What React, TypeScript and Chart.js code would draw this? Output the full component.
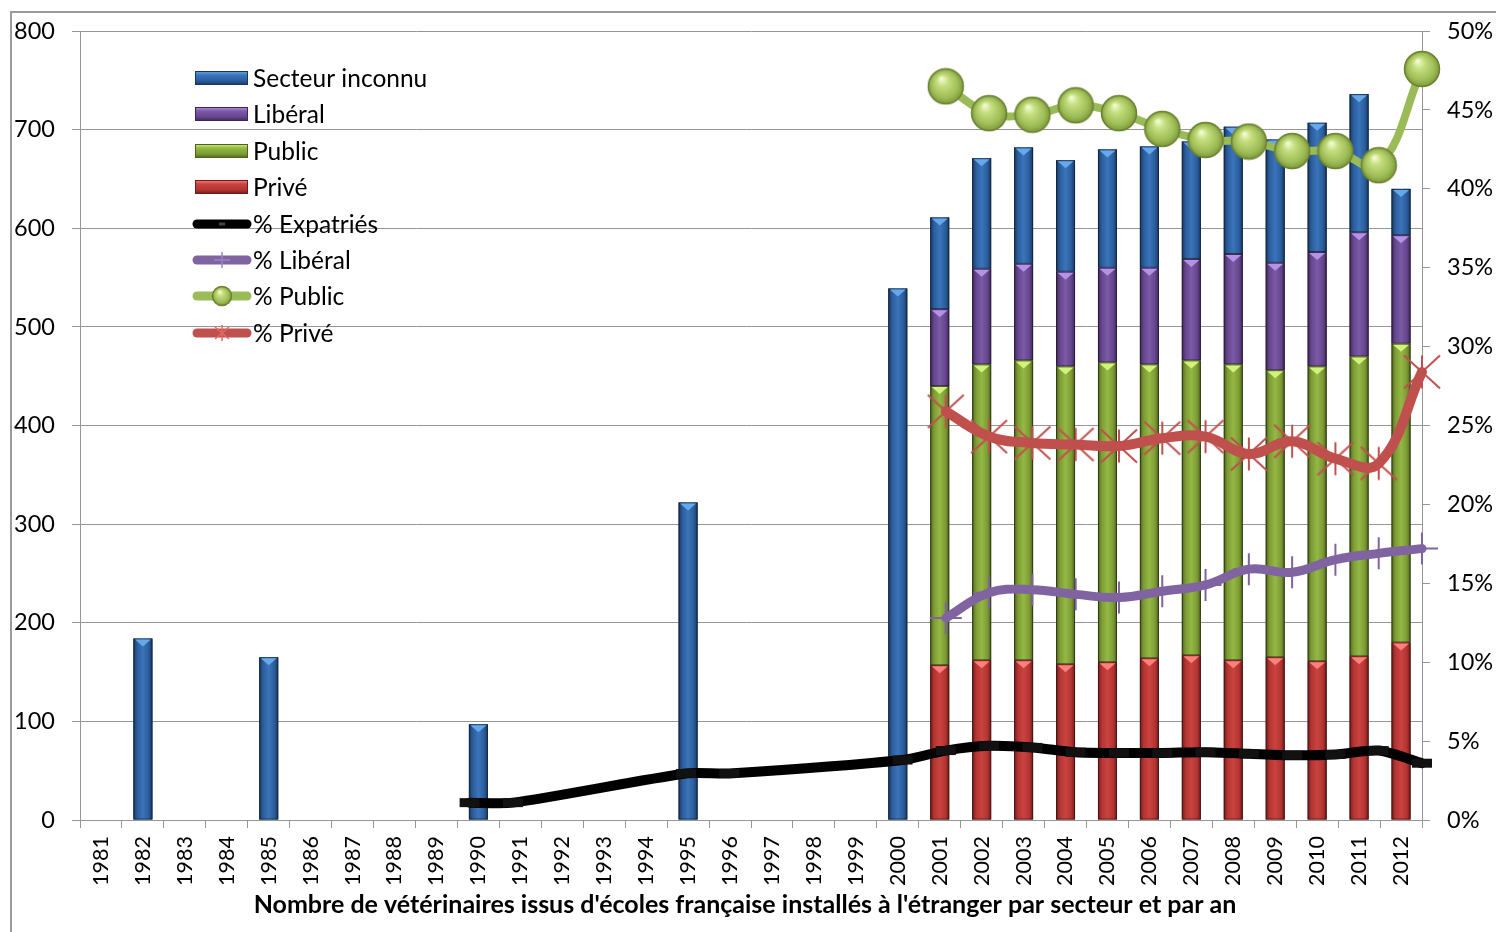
import React, { useEffect, useRef } from "react";
import { Chart, registerables } from "chart.js";

Chart.register(...registerables);

const years = [
  "1981", "1982", "1983", "1984", "1985", "1986", "1987", "1988", "1989", "1990",
  "1991", "1992", "1993", "1994", "1995", "1996", "1997", "1998", "1999", "2000",
  "2001", "2002", "2003", "2004", "2005", "2006", "2007", "2008", "2009", "2010",
  "2011", "2012",
];

const N = null;

// Bar series (counts)
const secteurInconnu = [N, 184, N, N, 165, N, N, N, N, 97, N, N, N, N, 322, N, N, N, N, 539,
  93, 112, 118, 113, 120, 123, 119, 129, 125, 131, 140, 47];
const liberal = [N, N, N, N, N, N, N, N, N, N, N, N, N, N, N, N, N, N, N, N,
  78, 97, 98, 96, 96, 98, 103, 112, 109, 116, 126, 110];
const publicS = [N, N, N, N, N, N, N, N, N, N, N, N, N, N, N, N, N, N, N, N,
  283, 300, 304, 302, 304, 298, 299, 300, 291, 299, 304, 303];
const prive = [N, N, N, N, N, N, N, N, N, N, N, N, N, N, N, N, N, N, N, N,
  157, 162, 162, 158, 160, 164, 167, 162, 165, 161, 166, 180];

// Line series (percent)
const pctExpatries = [N, N, N, N, N, N, N, N, N, 1.1, 1.1, N, N, N, 2.95, 2.95, N, N, N, 3.8,
  4.4, 4.7, 4.6, 4.3, 4.25, 4.25, 4.3, 4.2, 4.1, 4.15, 4.4, 3.6];
const pctLiberal = [N, N, N, N, N, N, N, N, N, N, N, N, N, N, N, N, N, N, N, N,
  12.8, 14.4, 14.6, 14.3, 14.1, 14.5, 14.9, 15.9, 15.7, 16.5, 16.9, 17.2];
const pctPublic = [N, N, N, N, N, N, N, N, N, N, N, N, N, N, N, N, N, N, N, N,
  46.5, 44.8, 44.7, 45.3, 44.8, 43.8, 43.1, 43.0, 42.4, 42.4, 41.5, 47.6];
const pctPrive = [N, N, N, N, N, N, N, N, N, N, N, N, N, N, N, N, N, N, N, N,
  25.9, 24.3, 23.9, 23.8, 23.7, 24.2, 24.3, 23.2, 24.0, 22.9, 22.6, 28.4];

const leftTicks = [0, 100, 200, 300, 400, 500, 600, 700, 800];
const axisTitle = "Nombre de vétérinaires issus d'écoles française installés à l'étranger par secteur et par an";

const FONT = "Lato";

const barPalette = [
  { base: "#b33532", dark: "#72191a", light: "#c9433f", tri: "#ff7f7a" }, // Privé
  { base: "#7d9c35", dark: "#4d631b", light: "#94b845", tri: "#d2f27a" }, // Public
  { base: "#66468e", dark: "#3d275a", light: "#7b5aa6", tri: "#b592e6" }, // Libéral
  { base: "#2b5d9c", dark: "#173761", light: "#3b74ba", tri: "#66a8ec" }, // Inconnu
];

function makeSphere(size: number) {
  const c = document.createElement("canvas");
  c.width = size;
  c.height = size;
  const g = c.getContext("2d")!;
  const r = size / 2 - 1.5;
  const cx = size / 2;
  const cy = size / 2;
  const grad = g.createRadialGradient(cx - r * 0.25, cy - r * 0.45, r * 0.05, cx, cy, r);
  grad.addColorStop(0, "#f2fad0");
  grad.addColorStop(0.3, "#c4de7e");
  grad.addColorStop(0.75, "#9fbd57");
  grad.addColorStop(1, "#7d9a3a");
  g.beginPath();
  g.arc(cx, cy, r, 0, Math.PI * 2);
  g.fillStyle = grad;
  g.fill();
  g.lineWidth = 1.5;
  g.strokeStyle = "#6c8232";
  g.stroke();
  return c;
}

function makeStar(size: number, hx: number, hy: number, vy: number, color: string) {
  const c = document.createElement("canvas");
  c.width = size;
  c.height = size;
  const g = c.getContext("2d")!;
  const cx = size / 2;
  const cy = size / 2;
  g.strokeStyle = color;
  g.lineWidth = 2;
  g.beginPath();
  g.moveTo(cx - hx, cy - hy);
  g.lineTo(cx + hx, cy + hy);
  g.moveTo(cx + hx, cy - hy);
  g.lineTo(cx - hx, cy + hy);
  g.moveTo(cx, cy - vy);
  g.lineTo(cx, cy + vy);
  g.stroke();
  return c;
}

export default function App() {
  const ref = useRef<HTMLCanvasElement | null>(null);

  useEffect(() => {
    if (!ref.current) return;
    const sphere = makeSphere(38);
    const sphereSmall = makeSphere(22);
    const star = makeStar(40, 18, 16.5, 16.5, "#c0504d");

    const barDecor = {
      id: "barDecor",
      afterDatasetDraw(chart: any, args: any) {
        const meta = args.meta;
        if (meta.type !== "bar") return;
        const pal = barPalette[args.index];
        if (!pal) return;
        const ctx = chart.ctx;
        const data = chart.data.datasets[args.index].data;
        ctx.save();
        meta.data.forEach((el: any, i: number) => {
          if (data[i] == null) return;
          const p = el.getProps(["x", "y", "base", "width"], true);
          const left = p.x - p.width / 2;
          const top = Math.min(p.y, p.base);
          const h = Math.abs(p.base - p.y);
          if (h <= 0) return;
          const g = ctx.createLinearGradient(left, 0, left + p.width, 0);
          g.addColorStop(0, pal.dark);
          g.addColorStop(0.2, pal.base);
          g.addColorStop(0.5, pal.light);
          g.addColorStop(0.8, pal.base);
          g.addColorStop(1, pal.dark);
          ctx.fillStyle = g;
          ctx.fillRect(left, top, p.width, h);
          ctx.strokeStyle = "rgba(20,20,20,0.55)";
          ctx.lineWidth = 1;
          ctx.strokeRect(left + 0.5, top + 0.5, p.width - 1, h - 1);
          ctx.beginPath();
          ctx.moveTo(left + 1.5, top + 1);
          ctx.lineTo(left + p.width - 1.5, top + 1);
          ctx.lineTo(p.x, top + Math.min(8, h));
          ctx.closePath();
          ctx.fillStyle = pal.tri;
          ctx.fill();
        });
        ctx.restore();
      },
    };

    const decor = {
      id: "decor",
      beforeDraw(chart: any) {
        const ctx = chart.ctx;
        ctx.save();
        ctx.strokeStyle = "#9a9a9a";
        ctx.lineWidth = 2;
        ctx.beginPath();
        ctx.moveTo(11, 940);
        ctx.lineTo(11, 12);
        ctx.lineTo(1500, 12);
        ctx.stroke();
        ctx.restore();
      },
      afterDraw(chart: any) {
        const ctx = chart.ctx;
        ctx.save();
        // axis title
        ctx.fillStyle = "#000";
        ctx.font = `bold 25px ${FONT}`;
        ctx.textAlign = "center";
        ctx.textBaseline = "middle";
        ctx.fillText(axisTitle, 745, 905);

        // legend
        const ds = chart.data.datasets;
        const rows = [3, 2, 1, 0, 4, 5, 6, 7];
        const ys = [78, 114, 151, 187, 224, 260, 296, 333];
        ctx.font = `24.5px ${FONT}`;
        ctx.textAlign = "left";
        rows.forEach((di, k) => {
          const y = ys[k];
          const d = ds[di];
          if (di < 4) {
            const pal = barPalette[di];
            const x0 = 195, w = 53, h = 14;
            const g = ctx.createLinearGradient(0, y - h / 2, 0, y + h / 2);
            g.addColorStop(0, pal.tri);
            g.addColorStop(0.3, pal.light);
            g.addColorStop(0.7, pal.base);
            g.addColorStop(1, pal.dark);
            ctx.fillStyle = g;
            ctx.fillRect(x0, y - h / 2, w, h);
            ctx.strokeStyle = pal.dark;
            ctx.lineWidth = 1;
            ctx.strokeRect(x0 + 0.5, y - h / 2 + 0.5, w - 1, h - 1);
          } else {
            ctx.strokeStyle = d.borderColor;
            ctx.lineWidth = 9;
            ctx.lineCap = "round";
            ctx.beginPath();
            ctx.moveTo(197, y);
            ctx.lineTo(247, y);
            ctx.stroke();
            const cx = 222;
            if (di === 6) {
              ctx.drawImage(sphereSmall, cx - 11, y - 11);
            } else if (di === 5) {
              ctx.lineCap = "butt";
              ctx.lineWidth = 1.5;
              ctx.strokeStyle = "#9b84bd";
              ctx.beginPath();
              ctx.moveTo(cx, y - 8);
              ctx.lineTo(cx, y + 8);
              ctx.moveTo(cx - 8, y);
              ctx.lineTo(cx + 8, y);
              ctx.stroke();
            } else if (di === 7) {
              ctx.lineCap = "butt";
              ctx.lineWidth = 1.5;
              ctx.strokeStyle = "#e06a66";
              ctx.beginPath();
              ctx.moveTo(cx - 7, y - 6);
              ctx.lineTo(cx + 7, y + 6);
              ctx.moveTo(cx + 7, y - 6);
              ctx.lineTo(cx - 7, y + 6);
              ctx.moveTo(cx, y - 8);
              ctx.lineTo(cx, y + 8);
              ctx.stroke();
            } else if (di === 4) {
              ctx.lineCap = "butt";
              ctx.lineWidth = 3;
              ctx.strokeStyle = "#444";
              ctx.beginPath();
              ctx.moveTo(cx - 3, y);
              ctx.lineTo(cx + 3, y);
              ctx.stroke();
            }
          }
          ctx.fillStyle = "#000";
          ctx.textBaseline = "middle";
          ctx.fillText(d.label, 253, y + 1);
        });
        ctx.restore();
      },
    };

    const gridColor = "#969696";

    const chart = new Chart(ref.current, {
      type: "bar",
      data: {
        labels: years,
        datasets: [
          { type: "bar", label: "Privé", data: prive, backgroundColor: barPalette[0].base, order: 10 },
          { type: "bar", label: "Public", data: publicS, backgroundColor: barPalette[1].base, order: 10 },
          { type: "bar", label: "Libéral", data: liberal, backgroundColor: barPalette[2].base, order: 10 },
          { type: "bar", label: "Secteur inconnu", data: secteurInconnu, backgroundColor: barPalette[3].base, order: 10 },
          {
            type: "line", label: "% Expatriés", data: pctExpatries, xAxisID: "x2", yAxisID: "y2",
            borderColor: "#000000", borderWidth: 10, tension: 0.25, spanGaps: true, clip: false as any,
            pointStyle: "line", pointRadius: 10, pointBorderWidth: 9, pointBorderColor: "#111111",
            pointBackgroundColor: "#000", borderCapStyle: "round", borderJoinStyle: "round", order: 3,
          },
          {
            type: "line", label: "% Libéral", data: pctLiberal, xAxisID: "x2", yAxisID: "y2",
            borderColor: "#8064a2", borderWidth: 9, tension: 0.4, spanGaps: true, clip: false as any,
            pointStyle: "cross", pointRadius: 16, pointBorderWidth: 2, pointBorderColor: "#8064a2",
            borderCapStyle: "round", borderJoinStyle: "round", order: 2,
          },
          {
            type: "line", label: "% Public", data: pctPublic, xAxisID: "x2", yAxisID: "y2",
            borderColor: "#9bbb59", borderWidth: 8, tension: 0.4, spanGaps: true, clip: false as any,
            pointStyle: sphere as any, pointRadius: 18,
            borderCapStyle: "round", borderJoinStyle: "round", order: 1,
          },
          {
            type: "line", label: "% Privé", data: pctPrive, xAxisID: "x2", yAxisID: "y2",
            borderColor: "#c0504d", borderWidth: 10, tension: 0.4, spanGaps: true, clip: false as any,
            pointStyle: star as any, pointRadius: 18,
            borderCapStyle: "round", borderJoinStyle: "round", order: 0,
          },
        ] as any,
      },
      options: {
        responsive: false,
        animation: false,
        devicePixelRatio: 1,
        layout: { padding: { left: 0, right: 0, top: 30, bottom: 0 } },
        plugins: { legend: { display: false }, tooltip: { enabled: false } },
        datasets: { bar: { categoryPercentage: 1, barPercentage: 0.453, grouped: false } } as any,
        scales: {
          x: {
            type: "category",
            stacked: true,
            offset: true,
            grid: { offset: true, drawOnChartArea: false, drawTicks: true, tickLength: 8, color: gridColor },
            border: { display: true, color: gridColor, width: 1 },
            ticks: {
              autoSkip: false, minRotation: 90, maxRotation: 90, padding: 8,
              color: "#000", font: { family: FONT, size: 21.5 },
            },
            afterFit: (s: any) => { s.height = 112; },
          },
          x2: {
            type: "category",
            display: false,
            offset: false,
            labels: years,
          },
          y: {
            position: "left",
            stacked: true,
            min: 0,
            max: 800,
            afterBuildTicks: (s: any) => { s.ticks = leftTicks.map((v) => ({ value: v })); },
            grid: { drawOnChartArea: true, drawTicks: true, tickLength: 8, color: gridColor, lineWidth: 1 },
            border: { display: true, color: gridColor, width: 1 },
            ticks: { padding: 17, color: "#000", font: { family: FONT, size: 23.5 } },
            afterFit: (s: any) => { s.width = 80; },
          },
          y2: {
            position: "right",
            stacked: false,
            min: 0,
            max: 50,
            grid: { drawOnChartArea: false, drawTicks: true, tickLength: 8, color: gridColor },
            border: { display: true, color: gridColor, width: 1 },
            ticks: {
              stepSize: 5, padding: 17, color: "#000", font: { family: FONT, size: 23.5 },
              callback: (v: any) => `${v}%`,
            },
            afterFit: (s: any) => { s.width = 74; },
          },
        } as any,
      },
      plugins: [decor, barDecor],
    });

    return () => chart.destroy();
  }, []);

  return (
    <div style={{ position: "absolute", left: 0, top: 0, width: 1496, height: 932, overflow: "hidden", background: "#fff" }}>
      <canvas ref={ref} width={1496} height={932} style={{ display: "block", width: 1496, height: 932 }} />
    </div>
  );
}
